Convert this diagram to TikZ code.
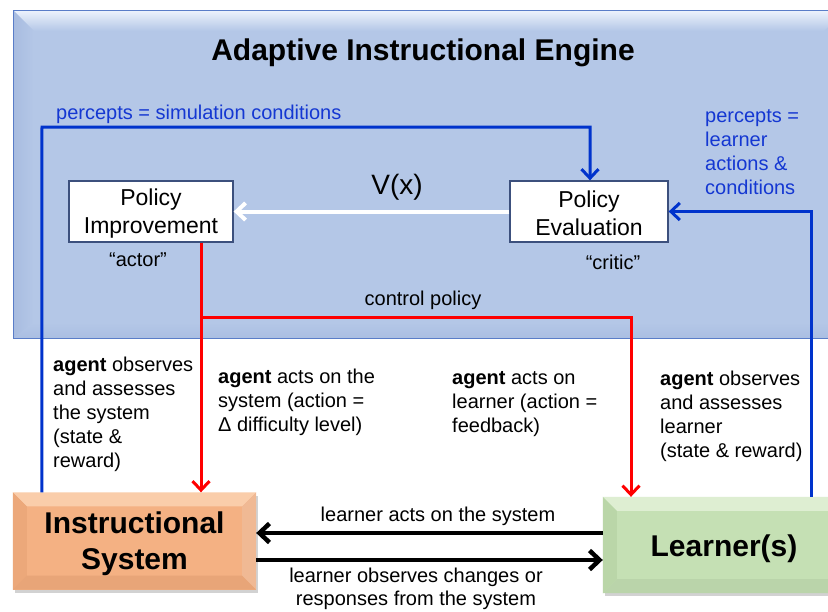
\documentclass[tikz,border=0pt]{standalone}
\usepackage{fontspec}
\setmainfont{Liberation Sans}
\usetikzlibrary{arrows.meta,shadows}
\definecolor{panel}{RGB}{180,199,231}
\definecolor{panelrim}{RGB}{90,125,200}
\definecolor{paneltop}{RGB}{236,242,252}
\definecolor{panelleft}{RGB}{168,188,224}
\definecolor{panelbot}{RGB}{170,190,226}
\definecolor{orangebox}{RGB}{244,177,131}
\definecolor{orangetop}{RGB}{250,205,170}
\definecolor{orangeleft}{RGB}{236,168,122}
\definecolor{orangeright}{RGB}{240,185,148}
\definecolor{orangebot}{RGB}{232,165,120}
\definecolor{greenbox}{RGB}{197,224,180}
\definecolor{greentop}{RGB}{222,238,210}
\definecolor{greenleft}{RGB}{186,214,168}
\definecolor{greenbot}{RGB}{186,212,170}
\definecolor{lineblue}{RGB}{0,51,204}
\definecolor{textblue}{RGB}{20,55,210}
\definecolor{boxrim}{RGB}{60,80,125}
\newcommand{\bevelbox}[6]{%
  \fill[#3] (#1.north west) -- (#1.north east) -- ([xshift=-#2pt,yshift=-#2pt]#1.north east) -- ([xshift=#2pt,yshift=-#2pt]#1.north west) -- cycle;
  \fill[#4] (#1.north west) -- ([xshift=#2pt,yshift=-#2pt]#1.north west) -- ([xshift=#2pt,yshift=#2pt]#1.south west) -- (#1.south west) -- cycle;
  \fill[#5] (#1.north east) -- ([xshift=-#2pt,yshift=-#2pt]#1.north east) -- ([xshift=-#2pt,yshift=#2pt]#1.south east) -- (#1.south east) -- cycle;
  \fill[#6] (#1.south west) -- ([xshift=#2pt,yshift=#2pt]#1.south west) -- ([xshift=-#2pt,yshift=#2pt]#1.south east) -- (#1.south east) -- cycle;
}
\begin{document}
\begin{tikzpicture}[x=1pt,y=-1pt,
  txt/.style={font=\fontsize{20}{24}\selectfont, inner sep=0pt, align=left},
  pbox/.style={draw=boxrim, line width=1.3pt, fill=white, inner sep=0pt},
  ptxt/.style={font=\fontsize{23}{28.5}\selectfont, align=center, inner sep=0pt},
  bigbox/.style={inner sep=0pt,
     drop shadow={opacity=0.35, shadow xshift=2pt, shadow yshift=-3pt}},
  bl/.style={draw=lineblue, line width=3pt},
  rd/.style={draw=red, line width=3pt},
  bk/.style={draw=black, line width=4.5pt},
  tipb/.style={-{Straight Barb[length=9pt,width=17pt]}},
]
\useasboundingbox (0,0) rectangle (828,611);
\fill[white] (0,0) rectangle (828,611);

% engine panel
\node[fill=panel, minimum width=830pt, minimum height=327pt, inner sep=0pt] (eng) at (429,174.5) {};
\shade[top color=paneltop, bottom color=panel] (eng.north west) -- (eng.north east) -- ([xshift=-20pt,yshift=-20pt]eng.north east) -- ([xshift=20pt,yshift=-20pt]eng.north west) -- cycle;
\shade[left color=panelleft, right color=panel] (eng.north west) -- ([xshift=20pt,yshift=-20pt]eng.north west) -- ([xshift=20pt,yshift=16pt]eng.south west) -- (eng.south west) -- cycle;
\shade[top color=panel, bottom color=panelbot] (eng.south west) -- ([xshift=20pt,yshift=16pt]eng.south west) -- ([xshift=-20pt,yshift=16pt]eng.south east) -- (eng.south east) -- cycle;
\draw[panelrim, line width=1.2pt] (eng.north east) -- (eng.north west) -- (eng.south west) -- (eng.south east);
\node[font=\bfseries\fontsize{30}{36}\selectfont, inner sep=0pt] (title) at (423,53) {Adaptive Instructional Engine};

% policy boxes
\node[pbox, minimum width=164pt, minimum height=61pt] (PI) at (151,211.5) {};
\node[ptxt] (PItxt) at (151,213.5) {Policy\\Improvement};
\node[pbox, minimum width=158pt, minimum height=61pt] (PE) at (589,211.5) {};
\node[ptxt] (PEtxt) at (589,213.5) {Policy\\Evaluation};

% bottom boxes
\node[bigbox, fill=orangebox, minimum width=243pt, minimum height=97pt] (IS) at (134.5,541) {};
\bevelbox{IS}{14}{orangetop}{orangeleft}{orangeright}{orangebot}
\node[font=\bfseries\fontsize{30}{36}\selectfont, align=center, inner sep=0pt] (IStxt) at (134.5,544) {Instructional\\System};
\node[bigbox, fill=greenbox, minimum width=242pt, minimum height=96pt] (LR) at (724,545) {};
\bevelbox{LR}{14}{greentop}{greenleft}{greenleft}{greenbot}
\node[font=\bfseries\fontsize{30}{36}\selectfont, inner sep=0pt] (LRtxt) at (724,549) {Learner(s)};

% connector coordinates
\coordinate (tl) at (42,127);
\coordinate (tr) at (590,127);
\coordinate (rt) at (811,211.5);
\coordinate (rj) at (201,317);
\coordinate (rk) at (631,317);
\coordinate (b1) at (0,533);
\coordinate (b2) at (0,560);

% blue percept lines
\draw[bl, tipb] ([xshift=29pt]IS.north west) -- (tl) -- (tr) -- (tr |- PE.north);
\draw[bl, tipb] (rt |- LR.north) -- (rt) -- (PE.east);

% value function arrow
\draw[white, line width=4pt, tipb] (PE.west) -- (PI.east);

% control policy (red)
\draw[rd, tipb] (rj |- PI.south) -- (rj |- IS.north);
\draw[rd, tipb] (rj) -- (rk) -- (rk |- LR.north);

% learner <-> system
\draw[bk, -{Straight Barb[length=10pt,width=19pt]}] (LR.west |- b1) -- (IS.east |- b1);
\draw[bk, -{Straight Barb[length=10pt,width=19pt]}] (IS.east |- b2) -- (LR.west |- b2);

% labels in panel
\node[txt, text=textblue, anchor=west] (lp1) at (56,114) {percepts = simulation conditions};
\node[txt, text=textblue, anchor=west] (lp2) at (705,152) {percepts =\\learner\\actions \&\\conditions};
\node[font=\fontsize{28}{32}\selectfont, inner sep=0pt] (vx) at (397,187) {V(x)};
\node[txt] (actor) at (138,260) {“actor”};
\node[txt] (critic) at (613,262) {“critic”};
\node[txt] (cp) at (423,300) {control policy};

% agent labels
\node[txt, anchor=west] (a1) at (53,414) {\textbf{agent} observes\\and assesses\\the system\\(state \&\\reward)};
\node[txt, anchor=west] (a2) at (218,402) {\textbf{agent} acts on the\\system (action =\\Δ difficulty level)};
\node[txt, anchor=west] (a3) at (452,404) {\textbf{agent} acts on\\learner (action =\\feedback)};
\node[txt, anchor=west] (a4) at (660,416) {\textbf{agent} observes\\and assesses\\learner\\(state \& reward)};

% learner/system labels
\node[txt] (la) at (438,516) {learner acts on the system};
\node[font=\fontsize{20}{23}\selectfont, inner sep=0pt, align=center] (lo) at (416,589) {learner observes changes or\\responses from the system};
\end{tikzpicture}
\end{document}
